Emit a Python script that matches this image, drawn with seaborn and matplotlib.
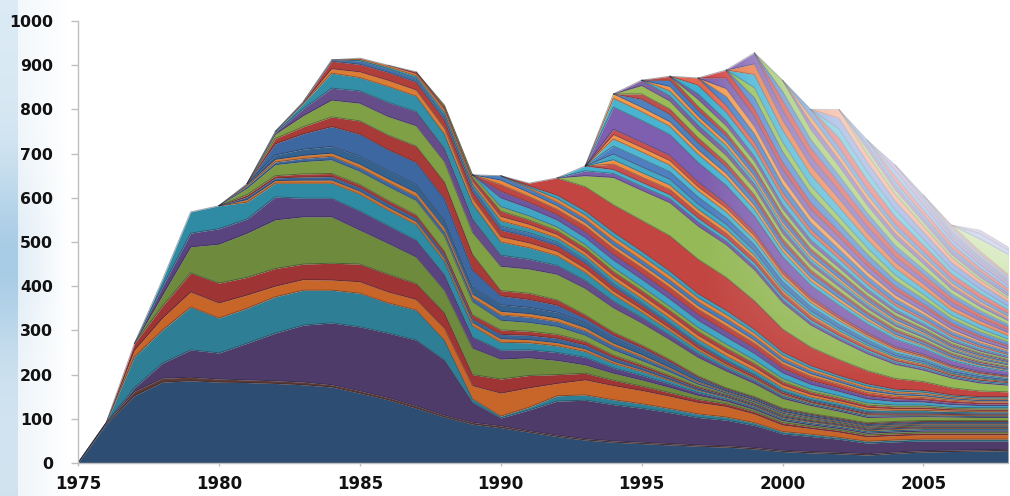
import numpy as np
import matplotlib
matplotlib.use("Agg")
import matplotlib.pyplot as plt
import seaborn as sns

years = list(range(1975, 2009))

# ---------------------------------------------------------------
# Series values; each list starts at the series' first year.
# ---------------------------------------------------------------
s1975_base = [0, 88, 152, 183, 186, 183, 182, 180, 177, 172, 158, 143, 124, 104, 88,
              80, 70, 60, 52, 47, 44, 41, 38, 36, 32, 26, 23, 21, 18, 22, 25, 26, 27, 28]
s1975_thin = [0, 3, 10, 9, 8, 7, 6, 6, 6, 5, 5, 5, 5, 4, 4,
              4, 3, 3, 3, 3, 3, 3, 3, 3, 3, 3, 3, 3, 3, 3, 3, 3, 3, 3]
s1977_a = [8, 34, 62, 59, 83, 108, 129, 140, 145, 146, 149, 125, 45,
           18, 47, 77, 87, 82, 77, 70, 62, 58, 50, 37, 34, 30, 24, 23, 22, 21, 20, 19]
s1977_b = [70, 75, 97, 79, 79, 82, 79, 74, 76, 68, 68, 45, 8,
           4, 6, 12, 12, 11, 10, 9, 8, 7, 6, 5, 5, 4, 4, 4, 4, 4, 4, 4]
s1977_c = [15, 27, 34, 34, 30, 24, 24, 23, 26, 25, 24, 27, 30,
           52, 44, 28, 34, 32, 30, 28, 26, 24, 20, 15, 13, 12, 10, 10, 10, 10, 10, 10]
s1977_d = [15, 27, 43, 45, 40, 40, 35, 38, 40, 40, 36, 35, 25,
           32, 28, 20, 15, 12, 10, 8, 7, 6, 5, 5, 4, 4, 4, 4, 4, 4, 4, 4]
s1978_a = [25, 59, 88, 100, 110, 107, 105, 77, 70, 60, 51, 60,
           45, 40, 32, 19, 16, 14, 12, 9, 6, 5, 5, 4, 4, 4, 4, 4, 4, 4, 4]
s1978_b = [20, 31, 35, 32, 52, 42, 42, 43, 40, 38, 35, 25,
           20, 18, 18, 17, 12, 10, 8, 6, 4, 4, 3, 3, 3, 3, 3, 3, 3, 3, 3]
s1978_c = [15, 48, 52, 38, 31, 34, 34, 38, 35, 35, 30, 25,
           18, 16, 15, 13, 10, 9, 7, 5, 4, 3, 3, 3, 3, 3, 3, 3, 3, 3, 3]
s1981_a = [6, 6, 7, 7, 7, 7, 7, 7, 8, 8, 7, 7, 6, 5, 4, 3, 2, 2, 2, 2, 2, 2, 2, 2, 2, 2, 2, 2]
s1981_b = [6, 6, 7, 8, 8, 8, 8, 8, 8, 10, 10, 10, 9, 8, 6, 5, 4, 3, 3, 3, 2, 2, 2, 2, 2, 2, 2, 2]
s1981_c = [5, 5, 7, 7, 7, 7, 7, 8, 9, 10, 9, 9, 8, 6, 5, 4, 3, 2, 2, 2, 2, 2, 2, 2, 2, 2, 2, 2]
s1981_d = [15, 25, 28, 31, 30, 32, 33, 35, 30, 22, 20, 18, 14, 12, 10, 8, 5, 3, 3, 3, 3, 2, 2, 2, 2, 2, 2, 2]
s1981_e = [5, 6, 7, 8, 8, 9, 9, 9, 9, 12, 12, 11, 10, 9, 8, 6, 4, 3, 3, 3, 2, 2, 2, 2, 2, 2, 2, 2]
s1981_f = [3, 6, 7, 7, 8, 8, 9, 9, 8, 8, 8, 8, 7, 6, 5, 4, 3, 2, 2, 2, 2, 2, 2, 2, 2, 2, 2, 2]
s1981_g = [2, 10, 14, 15, 18, 18, 18, 18, 15, 15, 14, 13, 11, 10, 9, 7, 5, 3, 3, 3, 3, 2, 2, 2, 2, 2, 2, 2]
s1982_a = [25, 35, 45, 50, 48, 50, 48, 40, 20, 18, 16, 10, 8, 7, 6, 4, 2, 2, 2, 2, 2, 2, 2, 2, 2, 2, 2]
s1982_b = [12, 16, 22, 30, 33, 37, 38, 35, 12, 14, 12, 8, 7, 6, 5, 3, 2, 2, 2, 2, 2, 2, 2, 2, 2, 2, 2]
s1982_c = [10, 25, 38, 40, 42, 46, 46, 50, 55, 55, 58, 60, 55, 50, 45, 42, 38, 30, 22, 18, 15, 12, 10, 9, 8, 7, 7]
s1982_d = [4, 16, 27, 28, 32, 32, 30, 30, 25, 22, 20, 18, 15, 12, 10, 8, 6, 5, 4, 3, 3, 3, 3, 2, 2, 2, 2]
s1982_e = [2, 12, 34, 30, 36, 35, 32, 35, 30, 26, 22, 18, 15, 12, 10, 8, 6, 5, 4, 3, 3, 3, 2, 2, 2, 2, 2]
s1983_a = [2, 10, 13, 14, 14, 14, 12, 12, 11, 10, 9, 8, 7, 6, 5, 4, 3, 3, 2, 2, 2, 2, 2, 2, 2, 2]
s1983_b = [2, 17, 17, 18, 18, 18, 15, 15, 14, 13, 12, 10, 9, 8, 7, 6, 5, 4, 3, 3, 3, 2, 2, 2, 2, 2]
s1984_a = [3, 8, 8, 8, 9, 9, 9, 9, 8, 8, 7, 6, 5, 4, 3, 3, 2, 2, 2, 2, 2, 2, 2, 2, 2]
s1985_a = [3, 4, 6, 8, 8, 12, 10, 9, 9, 9, 9, 9, 9, 9, 8, 7, 6, 6, 5, 4, 4, 3, 3, 3]
s1985_b = [3, 4, 5, 7, 7, 10, 9, 8, 8, 9, 9, 9, 9, 9, 8, 7, 6, 5, 5, 4, 4, 3, 3, 3]
s1987_a = [4, 6, 7, 12, 10, 9, 9, 9, 9, 9, 9, 9, 8, 7, 6, 6, 5, 4, 4, 3, 3, 3]
s1988_a = [4, 7, 10, 9, 8, 8, 9, 9, 9, 9, 9, 8, 7, 6, 5, 5, 4, 4, 3, 3, 3]
s1990_a = [20, 18, 16, 16, 17, 17, 17, 16, 16, 15, 13, 11, 10, 9, 8, 7, 6, 5, 5]
s1990_b = [15, 13, 12, 13, 13, 13, 13, 13, 13, 12, 10, 9, 8, 7, 6, 5, 5, 4, 4]
s1990_c = [15, 13, 12, 13, 13, 13, 13, 12, 12, 11, 10, 9, 8, 7, 6, 5, 5, 4, 4]
s1990_d = [10, 9, 8, 8, 8, 8, 8, 8, 8, 7, 6, 6, 5, 5, 4, 4, 3, 3, 3]
s1990_e = [10, 9, 8, 8, 9, 9, 9, 9, 9, 8, 7, 6, 5, 5, 4, 4, 3, 3, 3]
s1991_a = [3, 8, 9, 10, 10, 10, 9, 9, 8, 7, 6, 5, 5, 4, 4, 3, 3, 3]
s1991_b = [3, 8, 9, 10, 10, 10, 9, 9, 8, 7, 6, 5, 5, 4, 4, 3, 3, 3]
s1991_c = [6, 39, 55, 62, 70, 80, 78, 75, 65, 52, 42, 36, 30, 24, 20, 16, 13, 11]
s1993_a = [25, 62, 68, 75, 75, 74, 70, 60, 50, 44, 38, 32, 26, 22, 18, 15]
s1993_b = [11, 9, 9, 9, 9, 8, 8, 7, 6, 5, 5, 4, 4, 3, 3, 3]
s1993_c = [11, 9, 9, 9, 9, 8, 8, 7, 6, 5, 5, 4, 4, 3, 3, 3]
s1994_a = [12, 12, 12, 11, 10, 9, 8, 7, 6, 5, 4, 4, 3, 3, 2]
s1994_b = [10, 10, 10, 9, 9, 8, 6, 6, 5, 4, 4, 3, 2, 2, 2]
s1994_c = [13, 13, 13, 12, 11, 10, 8, 7, 6, 5, 4, 4, 3, 3, 2]
s1994_d = [18, 18, 17, 16, 15, 14, 12, 10, 9, 8, 6, 5, 5, 4, 3]
s1994_e = [16, 16, 15, 14, 13, 12, 10, 9, 8, 7, 6, 5, 4, 3, 3]
s1994_f = [10, 10, 10, 9, 9, 8, 7, 6, 5, 4, 4, 3, 3, 2, 2]
s1994_g = [12, 12, 12, 11, 10, 9, 8, 7, 6, 5, 4, 4, 3, 3, 2]
s1994_h = [50, 49, 47, 44, 41, 36, 31, 26, 24, 20, 17, 13, 11, 10, 9]
s1994_i = [20, 20, 19, 19, 17, 15, 12, 10, 9, 8, 7, 6, 5, 4, 3]
s1994_j = [10, 10, 10, 10, 10, 9, 8, 7, 7, 6, 4, 3, 3, 2, 2]
s1995_a = [18, 17, 16, 15, 14, 12, 11, 10, 8, 7, 6, 5, 4, 4]
s1995_b = [12, 12, 11, 10, 10, 8, 7, 6, 5, 5, 4, 3, 3, 2]
s1995_c = [19, 18, 17, 16, 15, 13, 11, 10, 8, 7, 6, 5, 4, 4]
s1995_d = [12, 11, 11, 11, 9, 9, 7, 6, 6, 4, 3, 3, 3, 2]
s1996_a = [12, 12, 11, 10, 9, 8, 7, 6, 5, 5, 4, 3, 3]
s1996_b = [10, 9, 9, 8, 7, 7, 6, 5, 5, 4, 3, 3, 2]
s1996_c = [14, 13, 13, 12, 11, 9, 9, 7, 6, 5, 4, 4, 3]
s1996_d = [9, 9, 8, 8, 7, 6, 5, 5, 4, 3, 3, 2, 2]
s1997_a = [16, 15, 14, 12, 11, 10, 8, 7, 6, 5, 4, 4]
s1997_b = [12, 12, 11, 10, 9, 8, 7, 6, 5, 4, 4, 3]
s1997_c = [20, 19, 18, 16, 14, 12, 10, 9, 8, 6, 5, 4]
s1997_d = [16, 15, 14, 12, 10, 9, 8, 6, 5, 5, 4, 3]
s1998_a = [20, 19, 17, 15, 13, 11, 10, 8, 7, 6, 5]
s1998_b = [18, 17, 15, 13, 12, 10, 8, 7, 6, 5, 4]
s1998_c = [24, 23, 20, 18, 16, 14, 11, 10, 8, 7, 6]
s1998_d = [18, 17, 16, 14, 12, 10, 9, 7, 6, 5, 4]
s1999_a = [25, 24, 21, 18, 16, 13, 11, 9, 8, 7]
s1999_b = [22, 21, 18, 16, 14, 12, 10, 8, 7, 6]
s1999_c = [30, 28, 25, 22, 19, 16, 13, 11, 10, 8]
s1999_d = [24, 22, 20, 18, 15, 13, 11, 9, 8, 7]
s1999_e = [25, 23, 20, 18, 15, 13, 11, 10, 7, 6]
s2000_a = [22, 20, 18, 16, 13, 11, 10, 8, 7]
s2000_b = [20, 19, 17, 14, 12, 11, 9, 8, 6]
s2000_c = [25, 23, 21, 18, 16, 13, 10, 9, 8]
s2001_a = [15, 14, 12, 11, 9, 8, 6, 5]
s2001_b = [14, 13, 12, 10, 8, 7, 6, 5]
s2001_c = [16, 15, 13, 11, 10, 8, 7, 6]
s2002_a = [22, 20, 17, 15, 12, 11, 9]
s2002_b = [20, 18, 16, 13, 11, 10, 8]
s2002_c = [24, 22, 19, 16, 14, 12, 10]
s2002_d = [20, 18, 16, 14, 12, 9, 8]
s2003_a = [11, 10, 9, 7, 6, 5]
s2003_b = [10, 9, 8, 7, 6, 5]
s2003_c = [11, 10, 8, 7, 6, 5]
s2004_a = [12, 11, 10, 8, 7]
s2004_b = [13, 12, 10, 9, 7]
s2004_c = [12, 11, 9, 8, 7]
s2005_a = [6, 5, 5, 4]
s2005_b = [5, 5, 4, 4]
s2006_a = [7, 6, 5]
s2006_b = [6, 6, 5]
s2007_a = [28, 45]
s2007_b = [12, 10]
s2007_c = [8, 7]

# stacking order (bottom to top) with each series' first year
stack = [
    (1975, s1975_base), (1975, s1975_thin),
    (1977, s1977_a), (1977, s1977_b), (1977, s1977_c), (1977, s1977_d),
    (1978, s1978_a), (1978, s1978_b), (1978, s1978_c),
    (1981, s1981_a), (1981, s1981_b), (1981, s1981_c), (1981, s1981_d),
    (1981, s1981_e), (1981, s1981_f), (1981, s1981_g),
    (1982, s1982_a), (1982, s1982_b), (1982, s1982_c), (1982, s1982_d), (1982, s1982_e),
    (1983, s1983_a), (1983, s1983_b), (1984, s1984_a),
    (1985, s1985_a), (1985, s1985_b), (1987, s1987_a), (1988, s1988_a),
    (1990, s1990_a), (1990, s1990_b), (1990, s1990_c), (1990, s1990_d), (1990, s1990_e),
    (1991, s1991_a), (1991, s1991_b), (1991, s1991_c),
    (1993, s1993_a), (1993, s1993_b), (1993, s1993_c),
    (1994, s1994_a), (1994, s1994_b), (1994, s1994_c), (1994, s1994_d), (1994, s1994_e),
    (1994, s1994_f), (1994, s1994_g), (1994, s1994_h), (1994, s1994_i), (1994, s1994_j),
    (1995, s1995_a), (1995, s1995_b), (1995, s1995_c), (1995, s1995_d),
    (1996, s1996_a), (1996, s1996_b), (1996, s1996_c), (1996, s1996_d),
    (1997, s1997_a), (1997, s1997_b), (1997, s1997_c), (1997, s1997_d),
    (1998, s1998_a), (1998, s1998_b), (1998, s1998_c), (1998, s1998_d),
    (1999, s1999_a), (1999, s1999_b), (1999, s1999_c), (1999, s1999_d), (1999, s1999_e),
    (2000, s2000_a), (2000, s2000_b), (2000, s2000_c),
    (2001, s2001_a), (2001, s2001_b), (2001, s2001_c),
    (2002, s2002_a), (2002, s2002_b), (2002, s2002_c), (2002, s2002_d),
    (2003, s2003_a), (2003, s2003_b), (2003, s2003_c),
    (2004, s2004_a), (2004, s2004_b), (2004, s2004_c),
    (2005, s2005_a), (2005, s2005_b),
    (2006, s2006_a), (2006, s2006_b),
    (2007, s2007_a), (2007, s2007_b), (2007, s2007_c),
]

fill_colors = [
    "#2D4D72", "#5E3A34",
    "#4F3B69", "#2E7F95", "#C8662A", "#9E3434",
    "#6E8B3D", "#5A4480", "#2F8AA3",
    "#D0742E", "#3A6496", "#A83B38", "#7C9A43", "#3E6A9E", "#D67A33", "#35618F",
    "#3C67A0", "#A83A37", "#80A045", "#654D8A", "#338FA8",
    "#DB7D35", "#B03E3B", "#4470A8",
    "#3795AE", "#E08038", "#B5423F", "#86A74A",
    "#40A5C4", "#6E56A0", "#BE4744", "#EB8A3E", "#4A7DBA",
    "#E8873C", "#3DA0BD", "#C24541",
    "#95B957", "#7A5DA8", "#45B0CE",
    "#C7504C", "#F08F42", "#42A8C4", "#4F7FC0", "#4FB6D3",
    "#F39445", "#C9514D", "#7E5EAE", "#4AB3D0", "#F59A4A",
    "#4F81BD", "#C0504D", "#9BBB59", "#8064A2",
    "#4BACC6", "#F79646", "#4A7CC0", "#C84E4A",
    "#94C057", "#7D5FA8", "#3FB0D0", "#E2674F",
    "#4A80C8", "#F39A50", "#7F62B0", "#D2484A",
    "#4D84CC", "#8CBE4E", "#3AAED2", "#E8733E", "#7B5CB0",
    "#D44A46", "#4B83CB", "#94C157",
    "#8365B4", "#EF8A45", "#4F8AD0",
    "#DA5450", "#3FB3D4", "#6F8FD8", "#EE8C68",
    "#9CC55E", "#8C70BC", "#5C90D6",
    "#E0605C", "#6C9AD8", "#9A80C4",
    "#86A5DE", "#B093CF",
    "#8FADE2", "#D88C8A",
    "#AFD27C", "#93A9DE", "#B09CD2",
]


def aligned(start, values):
    row = [0] * (start - years[0]) + list(values)
    assert len(row) == len(years), (start, len(row))
    return row


rows = np.array([aligned(s, v) for s, v in stack], dtype=float)

sns.set_theme(style="white")
plt.rcParams["font.family"] = ["DejaVu Sans"]
plt.rcParams["font.weight"] = "bold"

fig = plt.figure(figsize=(10.10, 4.96), dpi=100, facecolor="white")

# pale blue backdrop along the left edge of the figure
bg = fig.add_axes([0, 0, 1, 1], zorder=-10)
bg.axis("off")
W, H = 1010, 496
px = np.arange(W)[None, :]
py = np.arange(H)[:, None]
top_c = np.array([0.86, 0.92, 0.96])
mid_c = np.array([0.66, 0.80, 0.90])
bot_c = np.array([0.82, 0.89, 0.94])
t = py / H
w_mid = np.exp(-((py - 260) / 90.0) ** 2)
base = (1 - w_mid)[..., None] * (top_c * (1 - t[..., None]) + bot_c * t[..., None]) + w_mid[..., None] * mid_c
a_x = np.where(px < 18, 1.0, np.clip(0.35 * (1 - (px - 18) / 50.0), 0, 0.35))
img = np.ones((H, W, 3))
img = img * (1 - a_x[..., None]) + np.broadcast_to(base, (H, 1, 3)) * a_x[..., None]
bg.imshow(img, extent=(0, 1, 0, 1), aspect="auto", interpolation="bilinear")
bg.set_xlim(0, 1)
bg.set_ylim(0, 1)

ax = fig.add_axes([78 / 1010, 33 / 496, 930 / 1010, 442 / 496])
ax.set_facecolor("white")

ax.stackplot(years, rows, colors=fill_colors, linewidth=0, zorder=1)

# thin darker seams along each band's upper edge
tops = np.cumsum(rows, axis=0)
for vals, top in zip(rows, tops):
    keep = vals > 0
    keep = keep | np.roll(keep, 1) | np.roll(keep, -1)
    ax.plot(years, np.where(keep, top, np.nan), color=(0.12, 0.12, 0.18, 0.42),
            linewidth=0.7, zorder=2)

# washed-out upper right corner
gx = np.linspace(1975, 2008, 500)
gy = np.linspace(0, 1000, 400)
GX, GY = np.meshgrid(gx, gy)
xf = np.clip((GX - 1997.2) / 11.0, 0, 1)
yf = np.clip((GY - 180.0) / 480.0, 0, 1.6)
haze = np.ones((len(gy), len(gx), 4))
haze[..., 3] = np.clip(1.0 * xf * yf, 0, 0.85)
ax.imshow(haze, extent=(1975, 2008, 0, 1000), origin="lower", aspect="auto",
          interpolation="bilinear", zorder=3)

ax.set_xlim(1975, 2008)
ax.set_ylim(0, 1000)
ax.set_yticks(range(0, 1001, 100))
ax.set_xticks(range(1975, 2006, 5))
ax.tick_params(axis="y", length=5, width=1, color="#BFBFBF", pad=13,
               labelsize=11.3, labelcolor="#111111", left=True)
ax.tick_params(axis="x", length=2, width=1, color="#BFBFBF", pad=6.5,
               labelsize=12, labelcolor="#111111", bottom=True)
for lab in ax.get_xticklabels() + ax.get_yticklabels():
    lab.set_fontweight("bold")

sns.despine(ax=ax)
for side in ("left", "bottom"):
    ax.spines[side].set_color("#BFBFBF")
    ax.spines[side].set_linewidth(1)
    ax.spines[side].set_zorder(4)

fig.savefig("out.png", dpi=100, facecolor="white")
